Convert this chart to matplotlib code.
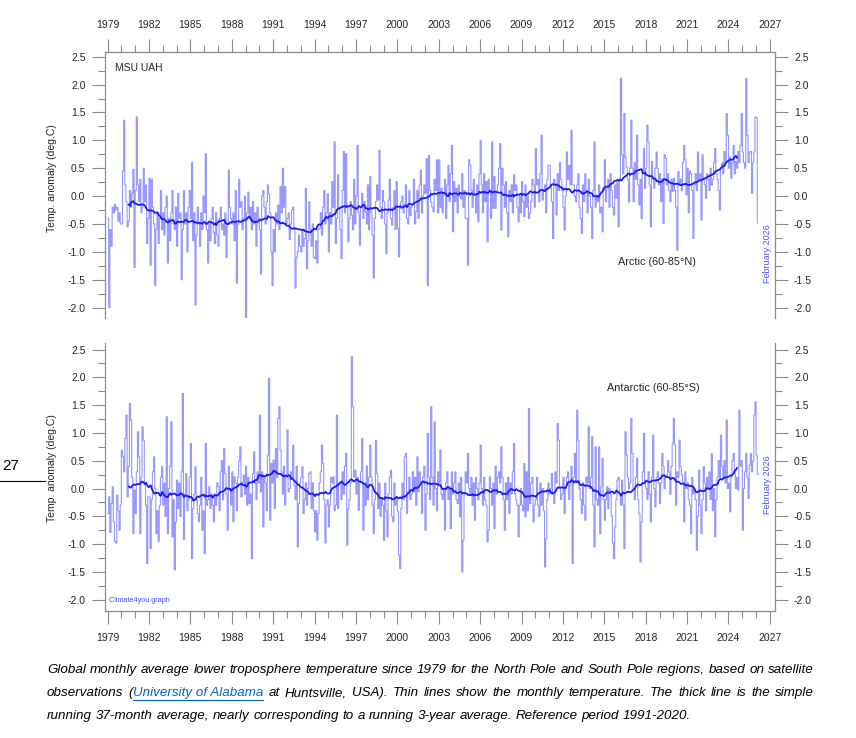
import matplotlib
matplotlib.use("Agg")
import matplotlib.pyplot as plt
import pandas as pd
from matplotlib.lines import Line2D
from matplotlib.ticker import FixedLocator, MultipleLocator, FormatStrFormatter

plt.rcParams['font.family'] = ['Liberation Sans', 'DejaVu Sans']
plt.rcParams['axes.unicode_minus'] = False

# monthly values, Jan 1979 .. Feb 2026
start_year = 1979

arctic = [
    -0.40, -2.00, -0.60, -0.90, -0.20, -0.30, -0.15, -0.25, -0.20, -0.45, -0.30, -0.50,  # 1979
    -0.50, 0.45, 1.36, 0.20, -0.10, -0.55, -0.45, 0.10, -0.20, 0.05, 0.48, -1.28,
    0.10, 1.42, 0.20, -0.10, 0.30, -0.30, -0.20, 0.50, -0.10, 0.20, -0.85, -0.40,
    0.32, -1.24, 0.30, -0.20, -0.50, -1.60, -0.60, -0.30, -0.85, -0.40, 0.10, -0.60,
    -0.30, -0.70, -0.20, 0.00, -1.20, -0.40, -0.80, -0.30, 0.10, -0.50, -0.60, -0.20,
    -0.90, 0.05, -0.40, -0.30, -1.50, -0.60, 0.10, -0.50, -0.30, -1.00, -0.20, 0.10,  # 1984
    -0.40, 0.60, -0.80, -0.30, -1.95, -0.70, -0.20, -0.50, -0.90, -0.30, -0.60, 0.00,
    -0.30, 0.76, -0.60, -1.20, -0.50, -0.80, -0.40, -0.20, -0.65, -0.85, -0.30, -0.70,
    -0.90, -0.40, -0.20, -0.60, -0.50, -0.70, -0.30, -1.10, -0.50, 0.46, -0.20, -0.40,
    -0.50, -0.30, -0.80, 0.10, -1.56, -0.50, 0.30, -0.20, -0.10, -0.60, -0.40, 0.00,
    -2.35, -0.30, 0.07, -0.40, -0.20, -0.60, -0.10, -0.50, -0.30, -0.90, -0.20, -0.40,  # 1989
    -0.60, -1.40, 0.00, 0.10, -0.20, -0.50, -0.10, 0.20, 0.04, -0.30, -1.00, -1.60,
    -0.60, -1.00, -0.30, -0.50, -0.16, -0.60, 0.17, -0.30, 0.50, -0.20, 0.17, -0.50,
    -0.40, -0.30, -0.78, -0.50, -0.25, -0.20, -0.60, -1.65, -1.10, -1.00, -0.70, -0.90,
    -1.00, -0.60, -0.90, -0.76, 0.14, -1.30, -0.80, -0.10, -0.60, -0.90, -0.50, -1.10,
    -1.12, -0.80, -1.20, -0.60, -0.58, -0.30, -0.70, -0.20, 0.10, -0.50, -0.30, 0.04,  # 1994
    -1.00, -0.30, -0.50, 0.26, -0.20, 0.97, -0.85, -0.40, 0.38, -0.20, -0.60, -1.12,
    0.10, 0.80, -0.30, 0.76, -0.20, -0.82, -0.40, -0.10, -0.34, -0.60, 0.30, -0.50,
    0.00, 0.91, -0.30, -0.88, -0.20, 0.05, -0.40, -0.10, -0.28, -0.50, 0.20, -0.60,
    0.35, -0.30, -0.70, -1.47, -0.40, -0.10, 0.20, -0.07, 0.82, -0.20, -0.40, 0.10,
    -0.10, -0.50, -1.03, -0.30, -0.07, 0.30, -0.40, -0.52, -0.20, 0.10, -0.60, 0.26,  # 1999
    -0.58, -1.09, -0.20, -0.10, 0.00, -0.30, -0.15, 0.20, -0.40, -0.50, 0.10, -0.35,
    -0.20, -0.16, 0.30, -0.50, -0.28, 0.10, -0.40, 0.20, 0.46, -0.30, 0.00, 0.20,
    0.05, 0.67, -1.60, 0.73, 0.10, -0.10, -0.20, -0.28, 0.30, 0.10, 0.65, -0.30,
    0.65, -0.20, 0.14, -0.30, 0.02, 0.30, -0.40, 0.20, 0.55, -0.10, 0.40, 0.91,
    -0.64, 0.26, -0.10, 0.14, -0.30, 0.20, 0.00, -0.05, 0.40, -0.20, 0.10, -0.40,  # 2004
    -0.40, -1.24, 0.65, 0.55, 0.10, -0.20, 0.30, 0.02, -0.30, 0.20, -0.46, 0.40,
    1.00, 0.20, -0.30, 0.40, -0.10, 0.26, -0.82, 0.30, 0.10, -0.40, 0.97, -0.22,
    0.35, -0.22, 0.10, 0.20, 0.50, 0.94, -0.61, 0.50, 0.20, -0.20, 0.26, -0.30,
    -0.73, 0.10, -0.10, 0.20, -0.30, 0.38, 0.10, 0.20, -0.20, -0.46, 0.00, -0.30,
    0.26, -0.10, -0.37, 0.20, -0.20, 0.00, -0.40, -0.30, -0.10, 0.30, 0.20, -0.20,  # 2009
    0.85, 0.20, 0.30, -0.10, 0.40, 1.09, -0.07, 0.08, 0.20, -0.30, 0.30, 0.55,
    0.55, 0.20, -0.10, -0.76, 0.30, 0.20, -0.34, 0.40, 0.10, 0.60, 0.30, 0.10,
    -0.20, -0.61, 0.00, 0.79, 0.30, 0.55, 0.20, 1.18, 0.20, 0.20, 0.00, -0.10,
    0.20, 0.40, -0.20, -0.40, -0.67, 0.20, -0.10, 0.40, 0.10, -0.30, 0.30, 0.00,
    -0.20, -0.76, 0.10, 0.97, -0.20, 0.02, -0.10, 0.20, -0.30, -0.20, -0.64, 0.10,  # 2014
    0.65, -0.10, 0.14, 0.30, -0.20, 0.40, 0.10, -0.20, -0.34, 0.20, -0.04, 0.30,
    -0.55, 0.30, 2.11, 0.74, 0.40, 1.48, 0.70, 0.52, 0.30, -0.10, 0.50, 1.36,
    0.50, -0.10, 0.60, 0.30, 1.09, 0.20, -0.16, 0.30, -0.40, 0.40, 0.85, 0.14,
    0.50, 1.27, 0.97, 0.20, -0.55, 0.62, 0.30, 0.14, 0.50, 0.79, 0.50, 0.20,
    0.40, -0.10, 0.30, -0.49, 0.74, 0.68, 0.20, 0.40, 0.10, -0.10, 0.30, 0.08,  # 2019
    0.32, 0.10, -0.20, -0.97, 0.44, 0.20, 0.30, 0.10, 0.60, 0.91, 0.65, 0.02,
    0.50, -0.30, 0.45, 0.40, 0.10, -0.76, 0.20, 0.40, 0.10, 0.79, 0.30, 0.40,
    -0.43, 0.74, 0.30, 0.20, -0.04, 0.40, 0.30, 0.10, 0.50, 0.20, 0.30, 0.60,
    0.85, 0.40, 0.30, 0.10, -0.25, 0.50, 0.60, 0.40, 0.80, 0.60, 1.48, 1.09,
    0.50, 0.70, 0.32, 0.60, 0.91, 0.40, 0.62, 0.50, 0.80, 0.60, 0.90, 1.48,  # 2024
    0.79, 0.60, 0.50, 2.11, 1.09, 0.60, 0.79, 0.80, 0.05, 0.60, 0.79, 1.42,
    1.40, -0.48,
]

antarctic = [
    -0.45, -0.15, -0.79, -0.27, 0.03, -0.60, -0.95, -0.98, -0.12, -0.40, -0.75, -0.30,  # 1979
    0.69, 0.57, 0.30, 0.90, 1.32, -0.15, 0.40, 1.53, 1.23, 0.20, -0.81, -0.03,
    -0.45, 0.30, 1.02, 0.57, -0.81, 0.20, 1.11, 0.87, 0.10, -0.30, -1.35, -0.15,
    -0.15, -1.08, -0.20, 0.30, 0.57, 0.00, -0.81, -0.40, -0.95, -0.30, 0.20, 0.39,
    -0.30, 0.10, -0.50, 1.29, -0.81, 0.00, 0.40, 1.20, -0.87, -0.20, -1.46, -0.60,
    0.15, -0.36, 0.10, -0.50, 0.30, 1.71, -0.92, -0.10, 0.27, -0.40, -0.20, 0.20,  # 1984
    0.81, -1.26, -0.36, -0.10, 0.39, -0.20, -0.45, -0.60, -0.30, 0.20, -0.75, -0.40,
    -1.17, 0.81, -0.30, -0.20, 0.03, -0.36, -0.10, -0.30, -0.60, -0.10, -0.30, 0.10,
    0.03, -0.40, 0.30, 0.50, -0.20, 0.72, 0.27, -0.10, -0.75, 0.40, -0.03, -0.30,
    0.30, -0.60, 0.21, 0.10, -0.40, 0.20, 0.50, 0.75, -0.15, 0.10, 0.24, -0.10,
    0.40, -0.30, 0.20, -0.27, -0.10, -1.26, 0.27, 0.66, 0.10, -0.20, 0.30, 0.10,  # 1989
    1.32, -0.06, 0.30, -0.69, 0.20, 0.10, -0.40, 0.60, 1.98, -0.57, 0.45, 0.10,
    0.51, -0.36, 0.72, 0.20, 1.26, 1.47, 0.69, 0.30, -0.10, 0.40, -0.30, 0.20,
    1.05, -0.06, 0.00, 0.30, 0.20, 0.78, 0.05, -0.20, 0.40, -1.05, -0.27, 0.10,
    0.20, 0.39, -0.45, -0.20, 0.10, -0.30, 0.00, 0.27, 0.30, -0.36, 0.10, -0.40,
    -0.78, -0.40, -0.93, -0.45, 0.10, 0.30, 0.78, 0.45, -0.20, -0.98, -0.30, -0.20,  # 1994
    -0.69, -0.30, 0.20, 0.10, 0.21, -0.40, -0.30, 1.32, -0.36, 0.10, 0.09, -0.20,
    0.30, -0.10, 0.40, 0.63, -1.02, -0.36, -0.20, 0.10, 2.37, 1.47, 0.21, 0.33,
    -0.10, 0.20, -0.39, 0.10, 0.30, 0.90, -0.75, 0.10, -0.30, 0.40, -0.20, 0.20,
    0.78, 0.21, -0.30, -0.81, -0.20, 0.87, 0.27, -0.36, 0.10, -0.50, -0.20, -0.30,
    -0.93, 0.10, -0.40, -0.87, -0.10, 0.20, 0.33, -0.50, -0.60, 0.10, -0.30, -0.20,  # 1999
    -0.40, -1.20, -1.44, -0.36, 0.10, -0.20, 0.57, 0.63, -0.45, -0.06, 0.20, -0.20,
    -0.10, 0.30, -0.06, 0.20, -0.30, 0.57, -0.06, 0.30, 0.10, -0.45, 0.20, 0.40,
    -0.75, -0.10, 0.99, 0.20, -0.20, 1.47, 0.20, -0.30, 1.20, 0.00, -0.40, 0.30,
    0.10, 0.69, -0.10, -0.20, 0.00, -0.75, 0.10, 0.30, -0.20, 0.00, -0.72, 0.30,
    -0.10, 0.10, 0.30, -0.20, -0.27, 0.10, -0.51, 0.20, -1.50, -0.93, -0.10, 0.30,  # 2004
    0.10, 0.63, 0.00, -0.10, 0.20, -0.30, 0.10, -0.57, 0.20, 0.00, -0.20, 0.10,
    0.78, 0.00, -0.30, 0.20, -0.20, -0.30, -0.96, -0.75, 0.21, 0.00, -0.30, 0.10,
    -0.72, 0.40, -0.10, 0.20, 0.30, 0.10, 0.75, 0.20, -0.20, -0.75, 0.10, -0.20,
    0.20, -0.45, 0.10, -0.10, 0.30, 0.81, -0.10, -0.20, -0.30, -0.87, -0.30, 0.00,
    -0.30, -0.40, 0.45, -0.51, 0.30, -0.40, 1.44, -0.27, 0.10, 0.20, -0.60, -0.30,  # 2009
    -0.20, 0.20, -0.30, -0.50, 0.10, -0.30, 0.00, -0.40, -1.41, -0.90, -0.20, 0.10,
    -0.10, 0.00, 0.27, -0.10, -0.27, 0.30, 0.10, 1.17, 0.87, 0.00, -0.20, -0.10,
    0.20, -0.45, 0.00, 0.20, 0.30, -0.20, 0.10, 0.40, -1.35, 0.20, 0.63, 0.10,
    1.41, 0.87, 0.00, -0.20, -0.45, 0.10, -0.30, -0.57, 0.20, 0.10, 1.11, 0.00,
    0.20, 0.93, -0.30, -1.05, 0.75, -0.20, -0.30, 0.75, -0.81, 0.03, 0.54, -0.20,  # 2014
    -0.57, -0.20, 0.03, -0.36, 0.00, -0.10, -0.50, -0.98, -1.26, -0.69, -0.20, 0.15,
    0.20, -0.10, -0.30, 0.15, -0.30, -1.08, 1.02, 0.60, 0.20, 0.00, 0.10, 1.26,
    0.63, 0.00, -0.20, 0.20, 0.54, -0.20, -0.45, -1.32, -0.60, 0.30, 0.99, 0.10,
    0.00, -0.20, 0.30, -0.10, -0.60, 0.20, 0.96, 0.00, -0.33, 0.20, 0.30, 0.10,
    -0.27, 0.10, 0.63, 0.40, 0.00, 0.20, 0.24, 0.50, 0.30, -0.10, 0.40, 0.81,  # 2019
    1.26, 0.78, -0.30, 0.30, 0.20, 0.87, 0.40, 0.24, 0.10, -0.60, 0.30, 0.00,
    0.10, -0.20, -0.30, -0.81, 0.20, -0.10, 0.00, -0.20, -1.11, -0.50, 0.33, -0.30,
    -0.81, -0.20, 0.39, 0.10, -0.40, 0.20, 0.00, 0.30, -0.20, 0.63, -0.40, 0.00,
    -0.87, -0.20, 0.20, 0.50, 0.20, 0.96, 0.40, 0.20, 0.50, 0.10, 1.23, 0.00,
    0.10, -0.42, 0.20, 0.50, 0.63, 0.30, 0.00, 0.20, -0.03, 1.41, 0.40, 0.50,  # 2024
    -0.75, 0.00, 0.30, 0.63, 0.20, -0.18, 0.42, 0.63, 0.30, 0.50, 1.32, 1.56,
    0.60, 0.25,
]

year_ticks = list(range(1979, 2028, 3))
window = 37  # running 37-month average

W, H = 856, 738
fig = plt.figure(figsize=(W / 100, H / 100), dpi=100)


def fx(x):
    return x / W


def fy(y):
    return 1 - y / H


def px_axes(left, top, right, bottom):
    return fig.add_axes([fx(left), fy(bottom), (right - left) / W, (bottom - top) / H])


thin_col = '#9696ff'
thick_col = '#1a1aff'
grey = '#8c8c8c'
label_col = '#262626'


def panel(ax, values, ylim, on_top):
    x = [start_year + (i + 0.5) / 12 for i in range(len(values))]
    s = pd.Series(values)
    avg = s.rolling(window, center=True).mean()
    ax.step(x, values, where='mid', color=thin_col, lw=0.8, zorder=2)
    ax.plot(x, avg, color=thick_col, lw=1.3, zorder=3)

    ax.set_xlim(1978.78, 2027.37)
    ax.set_ylim(*ylim)
    for side, sp in ax.spines.items():
        sp.set_color(grey)
        sp.set_linewidth(0.9)
    ax.spines['bottom' if on_top else 'top'].set_visible(False)

    ax.xaxis.set_major_locator(FixedLocator(year_ticks))
    ax.xaxis.set_minor_locator(MultipleLocator(1))
    ax.yaxis.set_major_locator(MultipleLocator(0.5))
    ax.yaxis.set_minor_locator(MultipleLocator(0.25))
    ax.yaxis.set_major_formatter(FormatStrFormatter('%.1f'))

    ax.tick_params(axis='x', which='both', direction='out', color=grey,
                   top=on_top, bottom=not on_top,
                   labeltop=on_top, labelbottom=not on_top,
                   labelsize=7.5, labelcolor=label_col, pad=6.5)
    ax.tick_params(axis='y', which='both', direction='out', color=grey,
                   left=True, right=True, labelleft=True, labelright=True,
                   labelsize=7.5, labelcolor=label_col)
    ax.tick_params(which='major', length=9.4, width=0.8)
    ax.tick_params(which='minor', length=5, width=0.8)
    ax.yaxis.set_tick_params(which='major', pad=4.3)


ax1 = px_axes(104.5, 52, 775, 318)
ax2 = px_axes(104.5, 343, 775, 611)
panel(ax1, arctic, (-2.186, 2.584), True)
panel(ax2, antarctic, (-2.203, 2.617), False)

# labels inside the panels
fig.text(fx(115), fy(68), 'MSU UAH', fontsize=7.5, color=label_col, va='center')
fig.text(fx(618), fy(262), 'Arctic (60-85\u00b0N)', fontsize=7.8, color=label_col, va='center')
fig.text(fx(607), fy(388), 'Antarctic (60-85\u00b0S)', fontsize=7.8, color=label_col, va='center')
fig.text(fx(767), fy(254), 'February 2026', fontsize=6.5, color='#5050ff',
         rotation=90, ha='center', va='center')
fig.text(fx(767), fy(485), 'February 2026', fontsize=6.5, color='#5050ff',
         rotation=90, ha='center', va='center')
fig.text(fx(109), fy(601), 'Climate4you graph', fontsize=5.2, color='#4a4aff', va='center')

for yc in (178, 468):
    fig.text(fx(52), fy(yc), 'Temp. anomaly (deg.C)', fontsize=7.5, color=label_col,
             rotation=90, ha='center', va='center')

# page number fragment at the left edge
fig.text(fx(2), fy(466), '27', fontsize=11, color='black', va='center')
fig.add_artist(Line2D([0, fx(45)], [fy(481), fy(481)], color='black', lw=0.8))

# caption, justified like the source
cap_kw = dict(fontsize=9.6, style='italic', va='center')
link_col = '#0563c1'
renderer = fig.canvas.get_renderer()


def draw_words(words, y, x0, x1=None):
    placed = []
    total = 0
    for word in words:
        segs = []
        for text, col, ul in word:
            t = fig.text(0, fy(y), text, color=col, **cap_kw)
            w = t.get_window_extent(renderer).width
            segs.append((t, w, ul, col))
        ww = sum(s[1] for s in segs)
        placed.append((segs, ww))
        total += ww
    if x1 is None:
        t = fig.text(0, 0, 'a a', **cap_kw)
        t2 = fig.text(0, 0, 'aa', **cap_kw)
        gap = t.get_window_extent(renderer).width - t2.get_window_extent(renderer).width
        t.remove()
        t2.remove()
    else:
        gap = (x1 - x0 - total) / (len(placed) - 1)
    x = x0
    for segs, ww in placed:
        for t, w, ul, col in segs:
            t.set_x(fx(x))
            if ul:
                fig.add_artist(Line2D([fx(x), fx(x + w)], [fy(y + 7)] * 2, color=col, lw=0.8))
            x += w
        x += gap


def plain(s):
    return [[(w, 'black', False)] for w in s.split()]


line1 = plain('Global monthly average lower troposphere temperature since 1979 for the '
              'North Pole and South Pole regions, based on satellite')
line2 = (plain('observations')
         + [[('(', 'black', False), ('University of Alabama', link_col, True)]]
         + plain('at Huntsville, USA). Thin lines show the monthly temperature. '
                 'The thick line is the simple'))
line3 = plain('running 37-month average, nearly corresponding to a running 3-year average. '
              'Reference period 1991-2020.')

draw_words(line1, 670, 47, 814)
draw_words(line2, 693, 47, 814)
draw_words(line3, 716, 47)

fig.savefig('out.png', dpi=100)
